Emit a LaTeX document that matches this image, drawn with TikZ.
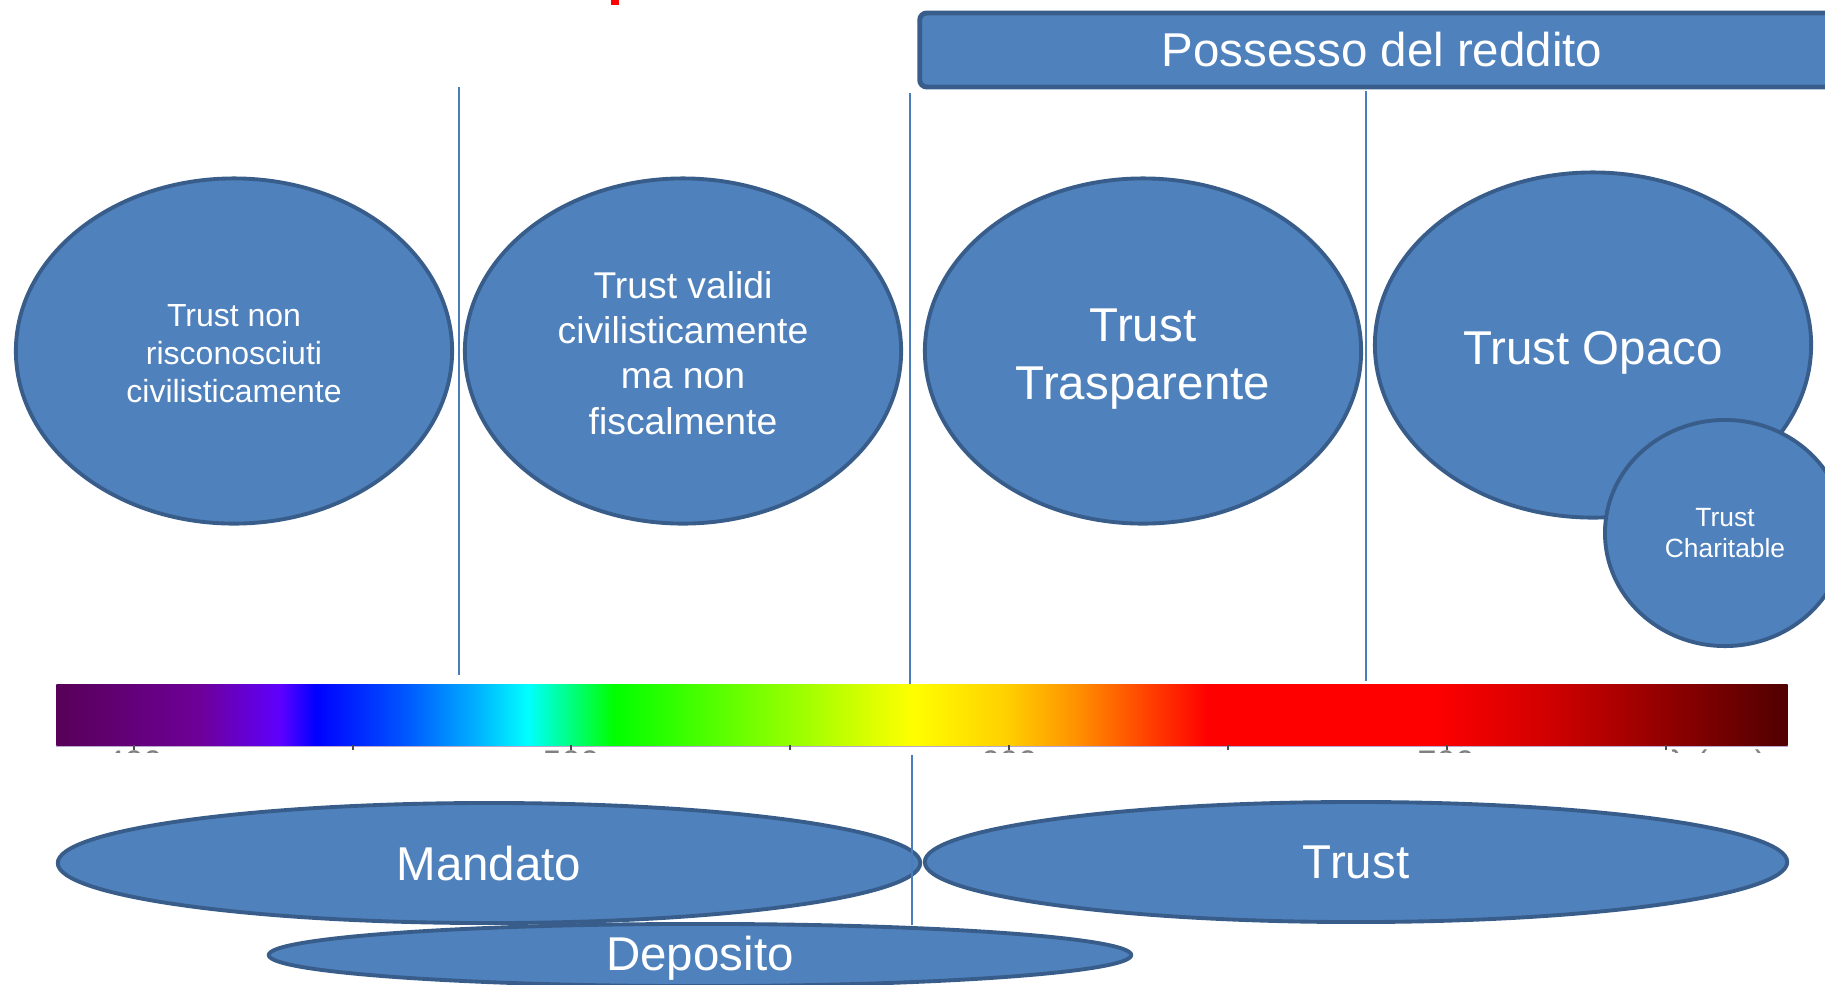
\documentclass[tikz,border=0pt]{standalone}
\usepackage{fontspec}
\setmainfont{Liberation Sans}
\usetikzlibrary{shapes.geometric}

\definecolor{riempi}{HTML}{4F81BD}
\definecolor{bordo}{HTML}{385D8A}
\definecolor{linea}{HTML}{4A7EBB}
\definecolor{lilla}{HTML}{BBA8D0}

% colori dello spettro
\definecolor{sp0}{HTML}{580058}
\definecolor{sp1}{HTML}{6E0098}
\definecolor{sp2}{HTML}{5E00FF}
\definecolor{sp3}{HTML}{0000FF}
\definecolor{sp4}{HTML}{0050FF}
\definecolor{sp5}{HTML}{00B0FF}
\definecolor{sp6}{HTML}{00FFFF}
\definecolor{sp7}{HTML}{00FF00}
\definecolor{sp8}{HTML}{90FF00}
\definecolor{sp9}{HTML}{FFFF00}
\definecolor{sp10}{HTML}{FFD000}
\definecolor{sp11}{HTML}{FF9000}
\definecolor{sp12}{HTML}{FF4000}
\definecolor{sp13}{HTML}{FF0000}
\definecolor{sp14}{HTML}{FF0000}
\definecolor{sp15}{HTML}{D00000}
\definecolor{sp16}{HTML}{900000}
\definecolor{sp17}{HTML}{500000}

\pgfdeclarehorizontalshading{spettro}{100bp}{
    color(0bp)=(sp0); color(25bp)=(sp0); color(29.13bp)=(sp1);
    color(31.47bp)=(sp2); color(32.49bp)=(sp3); color(34.91bp)=(sp4);
    color(37.11bp)=(sp5); color(38.61bp)=(sp6); color(41.10bp)=(sp7);
    color(46.07bp)=(sp8); color(49.71bp)=(sp9); color(52.43bp)=(sp10);
    color(54.48bp)=(sp11); color(56.53bp)=(sp12); color(58.24bp)=(sp13);
    color(64.71bp)=(sp14); color(68.12bp)=(sp15); color(71.53bp)=(sp16);
    color(75bp)=(sp17); color(100bp)=(sp17)}

% puntello invisibile per abbassare il testo
\newcommand{\spinta}[1]{\rule{0pt}{#1}}

\begin{document}
\begin{tikzpicture}[
    x=0.01cm, y=-0.01cm,
    bolla/.style={
        ellipse,
        draw=bordo,
        fill=riempi,
        line width=1.1pt,
        inner sep=0pt,
        align=center,
        text=white,
        font=\fontsize{13.5pt}{16.5pt}\selectfont
    },
    tondo/.style={bolla, minimum width=4.36cm, minimum height=3.45cm},
    piatta/.style={bolla, minimum width=8.62cm, minimum height=1.20cm},
    separa/.style={draw=linea, line width=0.6pt},
    tacca/.style={draw=black!70, line width=0.5pt},
    etichetta/.style={text=black!50, inner sep=0pt, font=\fontsize{9.7pt}{11pt}\selectfont}
]
    \useasboundingbox (0,0) rectangle (1825,984);

    % resto del titolo tagliato
    \fill[red] (611,0) rectangle (619,5);

    % fascia in alto
    \node[bolla, rectangle, rounded corners=2pt, line width=1.4pt,
          minimum width=9.24cm, minimum height=0.74cm] (possesso)
          at (1382,50) {Possesso del reddito};

    % le quattro categorie
    \node[tondo, font=\fontsize{9.1pt}{10.8pt}\selectfont] (noncivil) at (234,351)
        {\spinta{7.8pt}Trust non\\risconosciuti\\civilisticamente};
    \node[tondo, font=\fontsize{10.6pt}{12.8pt}\selectfont] (validi) at (683,351)
        {\spinta{8.9pt}Trust validi\\civilisticamente\\ma non\\fiscalmente};
    \node[tondo] (trasp) at (1143,351)
        {\spinta{13.8pt}Trust\\Trasparente};
    \node[tondo] (opaco) at (1593,345) {\spinta{13.8pt}Trust Opaco};
    \node[bolla, minimum width=2.40cm, minimum height=2.26cm,
          font=\fontsize{7.5pt}{8.8pt}\selectfont] (charit) at (1725,533)
        {Trust\\Charitable};

    % barra dello spettro
    \node[rectangle, inner sep=0pt, shading=spettro,
          minimum width=17.30cm, minimum height=0.61cm] (barra) at (922,715) {};
    \draw[lilla, line width=0.4pt] (barra.south west) -- (barra.south east);
    \foreach \t in {134,353,571,790,1009,1228,1447,1666}
        \draw[tacca] (\t,745) -- (\t,750);
    \begin{scope}
        \clip (40,747) rectangle (1800,752);
        \foreach \x/\l/\n in {134/400/a, 571/500/b, 1009/600/c, 1446/700/d, 1718/{λ (nm)}/e}
            \node[etichetta, anchor=north] (lab\n) at (\x,749.5) {\l};
    \end{scope}

    % forme giuridiche in basso
    \node[piatta, minimum height=0.58cm, inner ysep=-1pt] (deposito) at (700,955)
        {\spinta{11.7pt}Deposito};
    \node[piatta] (mandato) at (489,863) {\spinta{10.1pt}Mandato};
    \node[piatta] (trust) at (1356,862) {Trust};

    % linee di separazione
    \coordinate (s1a) at (459,87);   \coordinate (s1b) at (459,675);
    \coordinate (s2a) at (910,93);   \coordinate (s2b) at (910,684);
    \coordinate (s2c) at (912,755);  \coordinate (s2d) at (912,925);
    \coordinate (s3a) at (1366,91);  \coordinate (s3b) at (1366,681);
    \draw[separa] (s1a) -- (s1b);
    \draw[separa] (s2a) -- (s2b);
    \draw[separa] (s2c) -- (s2d);
    \draw[separa] (s3a) -- (s3b);
\end{tikzpicture}
\end{document}
